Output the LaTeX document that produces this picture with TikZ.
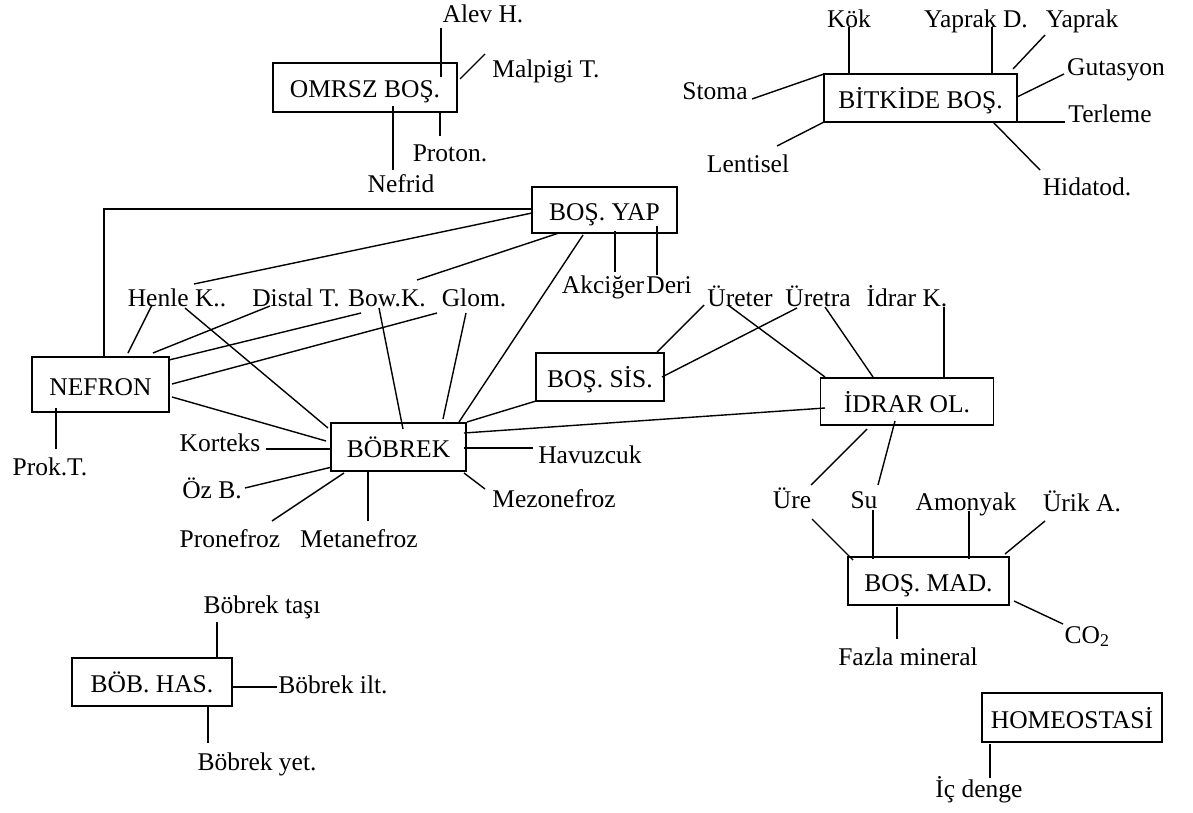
\documentclass[tikz,border=0pt]{standalone}
\usepackage{fontspec}
\setmainfont{Liberation Serif}
\tikzset{
  every node/.style={font=\fontsize{25.5}{30}\selectfont},
  lbl/.style={anchor=base, inner sep=0pt},
  box/.style={draw, line width=1.8pt, inner sep=0pt, text height=21pt, text depth=0pt},
  conn/.style={line width=1.4pt}
}
% connector between two named nodes, each end shifted from an anchor
\newcommand\lnk[4]{\draw[conn] ([shift={#2}]#1) -- ([shift={#4}]#3);}
\begin{document}
\begin{tikzpicture}[x=1pt,y=-1pt]
\useasboundingbox (0,0) rectangle (1193,813);

% boxes
\node[box, minimum width=184pt, minimum height=49pt] (om)  at (365,87.5)  {OMRSZ BOŞ.};
\node[box, minimum width=193pt, minimum height=48pt] (bit) at (920.5,98)  {BİTKİDE BOŞ.};
\node[box, minimum width=145pt, minimum height=46pt] (yap) at (604.5,210) {BOŞ. YAP};
\node[box, minimum width=137pt, minimum height=55pt] (nef) at (100.5,384.5) {NEFRON};
\node[box, minimum width=135pt, minimum height=48pt] (bob) at (398.5,447) {BÖBREK};
\node[box, minimum width=128pt, minimum height=48pt] (sis) at (600,377)   {BOŞ. SİS.};
\node[box, minimum width=173pt, minimum height=47pt] (idr) at (907,401.5) {İDRAR OL.};
\node[box, minimum width=161pt, minimum height=48pt] (mad) at (928.5,581) {BOŞ. MAD.};
\node[box, minimum width=160pt, minimum height=48pt] (has) at (152,682)   {BÖB. HAS.};
\node[box, minimum width=180pt, minimum height=49pt] (hom) at (1072,717.5) {HOMEOSTASİ};

% labels
\node[lbl] (alev)   at (483,23)   {Alev H.};
\node[lbl] (malp)   at (546,78)   {Malpigi T.};
\node[lbl] (prot)   at (450,162)  {Proton.};
\node[lbl] (nefrid) at (401,193)  {Nefrid};
\node[lbl] (kok)    at (849,28)   {Kök};
\node[lbl] (yd)     at (976,28)   {Yaprak D.};
\node[lbl] (yaprak) at (1082,28)  {Yaprak};
\node[lbl] (stoma)  at (715,100)  {Stoma};
\node[lbl] (lent)   at (748,172)  {Lentisel};
\node[lbl] (guta)   at (1116,76)  {Gutasyon};
\node[lbl] (terl)   at (1110,123) {Terleme};
\node[lbl] (hida)   at (1087,195) {Hidatod.};
\node[lbl] (henle)  at (177,306)  {Henle K..};
\node[lbl] (distal) at (296,306)  {Distal T.};
\node[lbl] (bow)    at (387,306)  {Bow.K.};
\node[lbl] (glom)   at (474,306)  {Glom.};
\node[lbl] (akc)    at (603,293)  {Akciğer};
\node[lbl] (deri)   at (669,293)  {Deri};
\node[lbl] (ureter) at (740,306)  {Üreter};
\node[lbl] (uretra) at (818,306)  {Üretra};
\node[lbl] (idrark) at (907,306)  {İdrar K.};
\node[lbl] (prok)   at (50,475)   {Prok.T.};
\node[lbl] (kort)   at (220,451)  {Korteks};
\node[lbl] (oz)     at (212,498)  {Öz B.};
\node[lbl] (pron)   at (230,547)  {Pronefroz};
\node[lbl] (meta)   at (359,547)  {Metanefroz};
\node[lbl] (mezo)   at (554,507)  {Mezonefroz};
\node[lbl] (havuz)  at (590,463)  {Havuzcuk};
\node[lbl] (ure)    at (792,508)  {Üre};
\node[lbl] (su)     at (864,508)  {Su};
\node[lbl] (amon)   at (966,510)  {Amonyak};
\node[lbl] (urik)   at (1082,511) {Ürik A.};
\node[lbl] (co)     at (1087,643) {CO\textsubscript{2}};
\node[lbl] (fazla)  at (908,665)  {Fazla mineral};
\node[lbl] (tasi)   at (262,613)  {Böbrek taşı};
\node[lbl] (ilt)    at (333,693)  {Böbrek ilt.};
\node[lbl] (yet)    at (257,770)  {Böbrek yet.};
\node[lbl] (ic)     at (979,797)  {İç denge};

% OMRSZ BOŞ.
\lnk{alev.base}{(-42,5)}{om.center}{(76,-10.5)}
\lnk{malp.base}{(-61,-24)}{om.center}{(95,-8.5)}
\lnk{prot.base}{(-10,-26)}{om.center}{(75,25.5)}
\lnk{nefrid.base}{(-8,-23)}{om.center}{(28,18.5)}

% BİTKİDE BOŞ.
\lnk{kok.base}{(0,-1)}{bit.center}{(-71.5,-24)}
\lnk{yd.base}{(16,-1)}{bit.center}{(71.5,-24)}
\lnk{yaprak.base}{(-37,7)}{bit.center}{(92.5,-29)}
\lnk{stoma.base}{(37,-1)}{bit.center}{(-96.5,-24)}
\lnk{lent.base}{(29,-26)}{bit.center}{(-96.5,24)}
\lnk{guta.base}{(-52,-2)}{bit.center}{(96.5,-1)}
\lnk{terl.base}{(-45,-1)}{bit.center}{(96.5,24)}
\lnk{hida.base}{(-47,-25)}{bit.center}{(72.5,24)}

% BOŞ. YAP
\draw[conn] ([shift={(3.5,-27.5)}]nef.center) |- ([shift={(-72.5,-1)}]yap.center);
\lnk{henle.base}{(17,-22)}{yap.center}{(-72.5,3)}
\lnk{bow.base}{(30,-26)}{yap.center}{(-45.5,23)}
\lnk{yap.center}{(-21.5,25)}{bob.center}{(60.5,-25)}
\lnk{akc.base}{(12,-21)}{yap.center}{(10.5,21)}
\lnk{deri.base}{(-12,-18)}{yap.center}{(52.5,16)}

% NEFRON
\lnk{henle.base}{(-25,-1)}{nef.center}{(27.5,-31.5)}
\lnk{distal.base}{(-26,0)}{nef.center}{(52.5,-31.5)}
\lnk{bow.base}{(-26,7)}{nef.center}{(68.5,-24.5)}
\lnk{glom.base}{(-37,7)}{nef.center}{(71.5,-0.5)}
\lnk{nef.center}{(71.5,12.5)}{bob.center}{(-72.5,-6)}
\lnk{prok.base}{(6,-26)}{nef.center}{(-44.5,23.5)}

% BÖBREK
\lnk{henle.base}{(8,2)}{bob.center}{(-70.5,-19)}
\lnk{bow.base}{(-8,2)}{bob.center}{(4.5,-18)}
\lnk{glom.base}{(-8,7)}{bob.center}{(44.5,-28)}
\lnk{kort.base}{(46,-2)}{bob.center}{(-67.5,2)}
\lnk{oz.base}{(33,-10)}{bob.center}{(-66.5,20)}
\lnk{pron.base}{(42,-26)}{bob.center}{(-54.5,26)}
\lnk{meta.base}{(9,-26)}{bob.center}{(-30.5,25)}
\lnk{mezo.base}{(-69,-18)}{bob.center}{(65.5,26)}
\lnk{havuz.base}{(-57,-15)}{bob.center}{(65.5,1)}
\lnk{bob.center}{(65.5,-14)}{idr.center}{(-82,6.5)}
\lnk{bob.center}{(68.5,-25)}{sis.center}{(-64,24)}

% BOŞ. SİS. and İDRAR OL.
\lnk{ureter.base}{(-36,-1)}{sis.center}{(57,-25)}
\lnk{uretra.base}{(-21,2)}{sis.center}{(62,0)}
\lnk{ureter.base}{(-12,-1)}{idr.center}{(-82,-24.5)}
\lnk{uretra.base}{(7,1)}{idr.center}{(-34,-24.5)}
\lnk{idrark.base}{(37,1)}{idr.center}{(37,-24.5)}
\lnk{idr.center}{(-40,27.5)}{ure.base}{(19,-23)}
\lnk{idr.center}{(-12,19.5)}{su.base}{(14,-23)}

% BOŞ. MAD.
\lnk{ure.base}{(20,11)}{mad.center}{(-75.5,-21)}
\lnk{su.base}{(9,2)}{mad.center}{(-55.5,-22)}
\lnk{amon.base}{(3,1)}{mad.center}{(40.5,-22)}
\lnk{urik.base}{(-37,10)}{mad.center}{(76.5,-27)}
\lnk{co.base}{(-24,-19)}{mad.center}{(85.5,20)}
\lnk{fazla.base}{(-11,-26)}{mad.center}{(-31.5,26)}

% BÖB. HAS.
\lnk{tasi.base}{(-45,9)}{has.center}{(65,-25)}
\lnk{ilt.base}{(-56,-6)}{has.center}{(81,5)}
\lnk{yet.base}{(-49,-27)}{has.center}{(56,25)}

% HOMEOSTASİ
\lnk{ic.base}{(11,-19)}{hom.center}{(-82,26.5)}
\end{tikzpicture}
\end{document}
